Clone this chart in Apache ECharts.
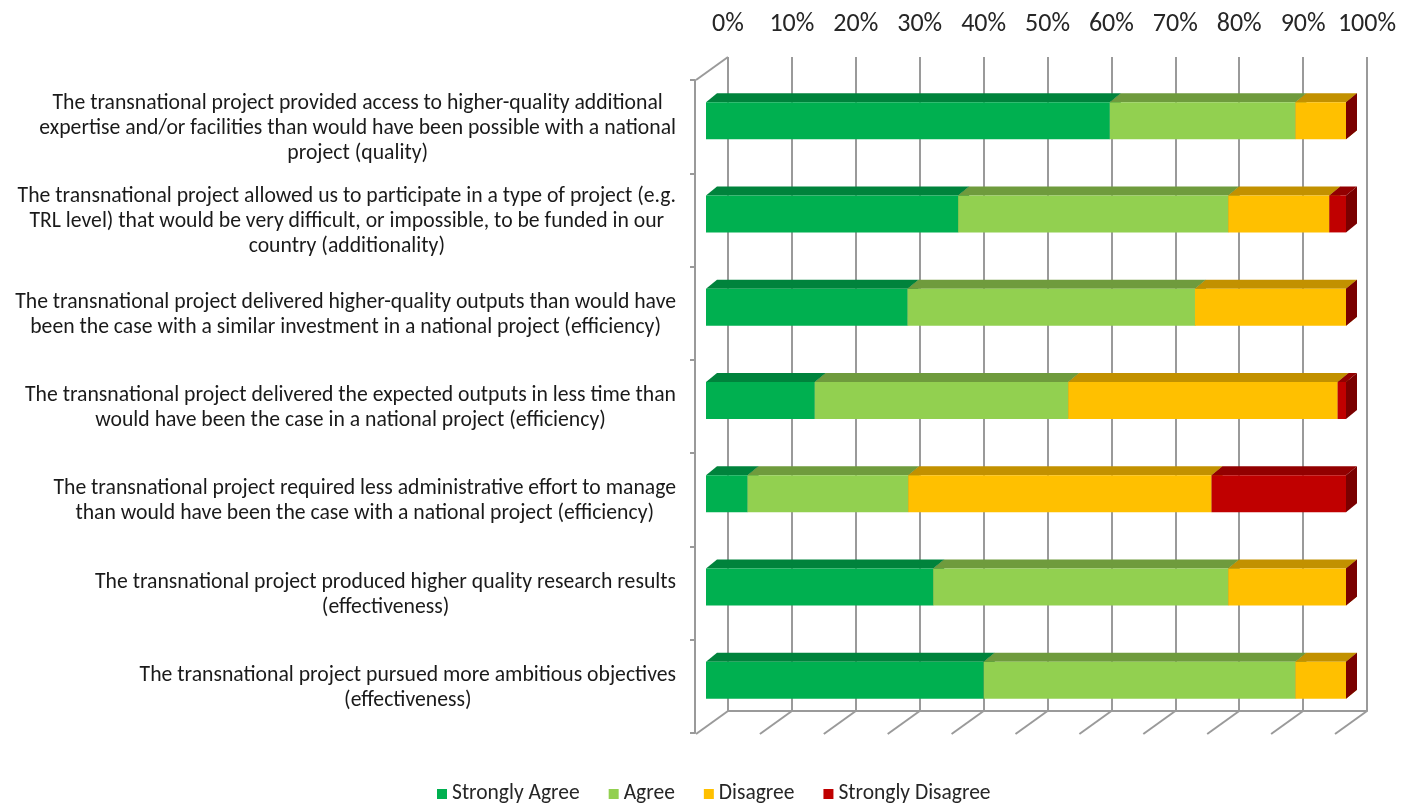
<!DOCTYPE html>
<html>
<head>
<meta charset="utf-8">
<script src="https://cdn.jsdelivr.net/npm/echarts@6/dist/echarts.min.js"></script>
<style>
html,body{margin:0;padding:0;background:#fff;}
#chart{width:1401px;height:803px;}
</style>
</head>
<body>
<div id="chart"></div>
<script>
var categories = [
  "The transnational project provided access to higher-quality additional\nexpertise and/or facilities than would have been possible with a national\nproject (quality)",
  "The transnational project allowed us to participate in a type of project (e.g.\nTRL level) that would be very difficult, or impossible, to be funded in our\ncountry (additionality)",
  "The transnational project delivered higher-quality outputs than would have\nbeen the case with a similar investment in a national project (efficiency)",
  "The transnational project delivered the expected outputs in less time than\nwould have been the case in a national project (efficiency)",
  "The transnational project required less administrative effort to manage\nthan would have been the case with a national project (efficiency)",
  "The transnational project produced higher quality research results\n(effectiveness)",
  "The transnational project pursued more ambitious objectives\n(effectiveness)"
];
var seriesNames = ["Strongly Agree", "Agree", "Disagree", "Strongly Disagree"];
var stronglyAgree    = [63.1, 39.4, 31.5, 17.0,  6.5, 35.5, 43.4];
var agree            = [29.0, 42.2, 44.9, 39.6, 25.1, 46.1, 48.7];
var disagree         = [ 7.9, 15.8, 23.6, 42.1, 47.4, 18.4,  7.9];
var stronglyDisagree = [ 0.0,  2.6,  0.0,  1.3, 21.0,  0.0,  0.0];
var tickValues = [0, 10, 20, 30, 40, 50, 60, 70, 80, 90, 100];

var FONT = "Carlito, Lato, 'Liberation Sans', sans-serif";
var frontColors = ["#00B050", "#92D050", "#FFC000", "#C00000"];
var topColors   = ["#00833C", "#6F9B3D", "#C29100", "#920000"];
var sideColors  = ["#006E32", "#5E8433", "#A67C00", "#7A0000"];
var GRID_COLOR = "#9a9a9a";
var BAR_H = 37, BAR_DX = 11, BAR_DY = 9;   // bar depth
var WALL_DX = 32, WALL_DY = 23;            // floor / wall depth

var allValues = [stronglyAgree, agree, disagree, stronglyDisagree];
var cum = categories.map(function(){ return 0; });
var series = [];
allValues.forEach(function(vals, si){
  var data = vals.map(function(v, ci){
    var s = cum[ci]; cum[ci] += v;
    return [ci, s, s + v];
  });
  series.push({
    name: seriesNames[si],
    type: 'custom',
    xAxisIndex: 1, yAxisIndex: 1,
    color: frontColors[si],
    encode: {x: [1, 2], y: 0},
    z: 10 + si,
    data: data,
    renderItem: (function(idx){
      return function(params, api){
        var ci = api.value(0), s = api.value(1), e = api.value(2);
        var p0 = api.coord([s, ci]), p1 = api.coord([e, ci]);
        var x0 = p0[0], x1 = p1[0], yT = p0[1] - BAR_H/2, yB = p0[1] + BAR_H/2;
        var children = [];
        if (x1 - x0 > 0.01) {
          children.push({type:'polygon', shape:{points:[[x0,yT],[x1,yT],[x1+BAR_DX,yT-BAR_DY],[x0+BAR_DX,yT-BAR_DY]]}, style:{fill: topColors[idx]}});
          children.push({type:'rect', shape:{x:x0, y:yT, width:x1-x0, height:BAR_H}, style:{fill: frontColors[idx]}});
        }
        children.push({type:'polygon', shape:{points:[[x1,yT],[x1+BAR_DX,yT-BAR_DY],[x1+BAR_DX,yB-BAR_DY],[x1,yB]]}, style:{fill: sideColors[idx]}});
        return {type:'group', children: children};
      };
    })(si)
  });
});

// wall decorations: floor slants and top-left slant
series.push({
  type: 'custom',
  xAxisIndex: 0, yAxisIndex: 0,
  silent: true,
  z: 1,
  data: tickValues.map(function(v){ return [v, 0]; }),
  renderItem: function(params, api){
    var v = api.value(0);
    var p = api.coord([v, 0]);
    var children = [{type:'line', shape:{x1:p[0], y1:p[1], x2:p[0]-WALL_DX, y2:p[1]+WALL_DY}, style:{stroke: GRID_COLOR, lineWidth: 2}}];
    if (v === 0) {
      var q = api.coord([0, 1]);
      children.push({type:'line', shape:{x1:q[0], y1:q[1], x2:q[0]-WALL_DX, y2:q[1]+WALL_DY}, style:{stroke: GRID_COLOR, lineWidth: 2}});
    }
    return {type:'group', children: children};
  }
});

var chart = echarts.init(document.getElementById('chart'), null, {renderer: 'canvas'});
chart.setOption({
  backgroundColor: '#ffffff',
  animation: false,
  textStyle: {fontFamily: FONT},
  legend: {
    data: seriesNames,
    left: 432, top: 778,
    icon: 'rect', itemWidth: 10, itemHeight: 10, itemGap: 29,
    textStyle: {fontFamily: FONT, fontSize: 21.5, color: '#262626'}
  },
  grid: [
    {left: 728, right: 34, top: 57, bottom: 92},   // back wall
    {left: 706, right: 55, top: 74, bottom: 76},   // bar front faces
    {left: 695, width: 10, top: 80, bottom: 70}    // front-left axis
  ],
  xAxis: [
    {gridIndex: 0, type: 'value', min: 0, max: 100, interval: 10, position: 'top',
     axisLine: {show: true, lineStyle: {color: GRID_COLOR, width: 2}},
     axisTick: {show: false},
     splitLine: {show: true, lineStyle: {color: GRID_COLOR, width: 2}},
     axisLabel: {formatter: '{value}%', fontSize: 26, color: '#262626', margin: 20, fontFamily: FONT}},
    {gridIndex: 1, type: 'value', min: 0, max: 100, show: false},
    {gridIndex: 2, type: 'value', min: 0, max: 1, show: false}
  ],
  yAxis: [
    {gridIndex: 0, type: 'value', min: 0, max: 1, show: false},
    {gridIndex: 1, type: 'category', data: categories, inverse: true, show: false},
    {gridIndex: 2, type: 'category', data: categories, inverse: true,
     axisLine: {show: true, lineStyle: {color: GRID_COLOR, width: 2}},
     axisTick: {show: true, length: 5, lineStyle: {color: GRID_COLOR, width: 2}},
     splitLine: {show: false},
     axisLabel: {
       margin: 19, color: '#1a1a1a', fontSize: 21.7, fontFamily: FONT,
       formatter: function(val){ return val.split('\n').map(function(l){ return '{c|' + l + '}'; }).join('\n'); },
       rich: {c: {align: 'center', fontSize: 21.7, lineHeight: 25, color: '#1a1a1a', fontFamily: FONT, padding: [3,0,0,0]}}
     }}
  ],
  series: series
});
</script>
</body>
</html>
